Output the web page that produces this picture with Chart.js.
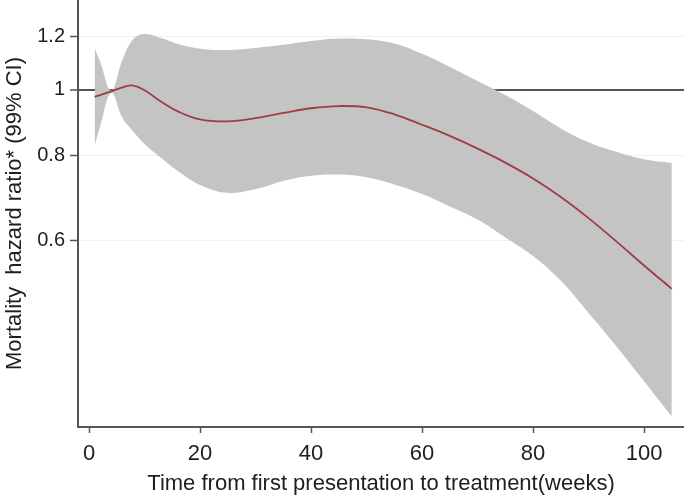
<!DOCTYPE html>
<html>
<head>
<meta charset="utf-8">
<script src="https://cdn.jsdelivr.net/npm/chart.js@4"></script>
<style>
  html, body { margin: 0; padding: 0; background: #fff; }
  #wrap { width: 684px; height: 496px; }
</style>
</head>
<body>
<div id="wrap"><canvas id="chart-hr"></canvas></div>
<script>
// Data (weeks, hazard ratio with 99% CI)
const weeks = [1, 2, 4, 6, 8, 10, 13, 16, 20, 25, 30, 35, 40, 45, 50, 55, 60, 65, 70, 75, 80, 85, 90, 95, 100, 105]
const hrCenter = [0.977, 0.983, 0.995, 1.009, 1.015, 0.999, 0.961, 0.930, 0.905, 0.899, 0.909, 0.925, 0.940, 0.947, 0.943, 0.921, 0.889, 0.856, 0.820, 0.782, 0.741, 0.696, 0.648, 0.599, 0.552, 0.510]
const ciUpper = [1.153, 1.099, 0.998, 1.107, 1.189, 1.209, 1.192, 1.168, 1.150, 1.145, 1.153, 1.165, 1.180, 1.190, 1.187, 1.170, 1.130, 1.081, 1.031, 0.983, 0.931, 0.878, 0.838, 0.811, 0.791, 0.781]
const ciLower = [0.827, 0.885, 0.990, 0.910, 0.868, 0.833, 0.794, 0.760, 0.725, 0.706, 0.715, 0.735, 0.748, 0.751, 0.744, 0.726, 0.703, 0.674, 0.645, 0.607, 0.570, 0.524, 0.470, 0.420, 0.373, 0.331]

// Axis ticks
const yTicks = [0.6, 0.8, 1, 1.2]
const xTicks = [0, 20, 40, 60, 80, 100]

// Colors
const color_band = '#c4c4c4'
const color_line = '#a13c46'
const color_axis = '#555555'
const color_text = '#1e1e1e'

function points(ys) {
    return weeks.map((w, i) => ({x: w, y: ys[i]}))
}

const data = {
    datasets: [{
            label: 'Hazard ratio',
            data: points(hrCenter),
            borderColor: color_line,
            borderWidth: 1.8,
            pointRadius: 0,
            fill: false,
            tension: 0.4,
            order: 0,
        },
        {
            label: 'Upper CI',
            data: points(ciUpper),
            borderWidth: 0,
            pointRadius: 0,
            fill: '+1', // fill down to the lower bound
            backgroundColor: color_band,
            tension: 0.4,
            order: 1,
        },
        {
            label: 'Lower CI',
            data: points(ciLower),
            borderWidth: 0,
            pointRadius: 0,
            fill: false,
            tension: 0.4,
            order: 2,
        },
    ]
}

const font_xticks = {family: 'Liberation Sans', size: 22}
const font_yticks = {family: 'Liberation Sans', size: 20}
const font_title = {family: 'Liberation Sans', size: 22}

const config = {
    type: 'line',
    data: data,
    options: {
        responsive: true,
        maintainAspectRatio: false,
        animation: false,
        layout: {padding: 0},
        plugins: {
            legend: {display: false},
            tooltip: {enabled: false},
        },
        scales: {
            x: {
                type: 'linear',
                min: -2,
                max: 107.2,
                bounds: 'data',
                afterBuildTicks: (scale) => {
                    scale.ticks = xTicks.map(v => ({value: v}))
                },
                afterFit: (scale) => {
                    scale.height = 69
                    scale.paddingLeft = 0
                    scale.paddingRight = 0
                },
                border: {display: true, color: color_axis, width: 2},
                grid: {
                    drawOnChartArea: false,
                    drawTicks: true,
                    tickLength: 6,
                    tickColor: color_axis,
                    tickWidth: 1.5,
                },
                ticks: {
                    font: font_xticks,
                    color: color_text,
                    padding: 8,
                    maxRotation: 0,
                },
                title: {
                    display: true,
                    text: 'Time from first presentation to treatment(weeks)',
                    font: font_title,
                    color: color_text,
                    padding: {top: 0, bottom: -1},
                },
            },
            y: {
                type: 'logarithmic',
                min: 0.3195,
                max: 1.356,
                bounds: 'data', // keep the exact min/max instead of rounding to ticks
                afterBuildTicks: (scale) => {
                    scale.ticks = yTicks.map(v => ({value: v}))
                },
                afterFit: (scale) => {
                    scale.width = 78
                    scale.paddingTop = 0
                    scale.paddingBottom = 0
                },
                border: {display: true, color: color_axis, width: 2},
                grid: {
                    color: (ctx) => ctx.tick && ctx.tick.value === 1 ? color_axis : '#f1f1f1',
                    lineWidth: (ctx) => ctx.tick && ctx.tick.value === 1 ? 2 : 1,
                    tickColor: color_axis,
                    tickLength: 8,
                    tickWidth: 1.5,
                },
                ticks: {
                    font: font_yticks,
                    color: color_text,
                    padding: 5,
                    callback: (value) => String(value),
                },
                title: {
                    display: true,
                    text: 'Mortality  hazard ratio* (99% CI)',
                    font: font_title,
                    color: color_text,
                    padding: {top: 2, bottom: 0},
                },
            },
        },
    }
}

const context = document.getElementById('chart-hr').getContext('2d')
const chart = new Chart(context, config)
</script>
</body>
</html>
